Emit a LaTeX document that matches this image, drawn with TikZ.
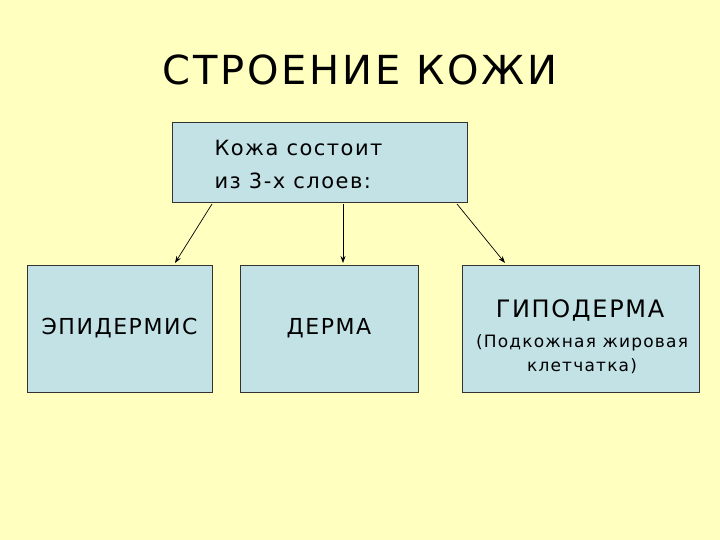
\documentclass[tikz,border=0pt]{standalone}
\usepackage{fontspec}
\setmainfont{DejaVu Sans}[LetterSpace=7]
\usetikzlibrary{arrows.meta}
\definecolor{bg}{HTML}{FFFFC0}
\definecolor{boxfill}{HTML}{C2E2E6}
\begin{document}
\begin{tikzpicture}[x=1pt,y=-1pt,
  box/.style={draw=black!80,fill=boxfill,line width=0.8pt,inner sep=0pt},
  conn/.style={-{Stealth[length=7pt,width=5pt]},line width=0.7pt}]
\fill[bg] (0,0) rectangle (720,540);
\useasboundingbox (0,0) rectangle (720,540);
\node[font=\fontsize{40}{46}\selectfont] (title) at (360,70) {СТРОЕНИЕ КОЖИ};
\node[box,minimum width=295pt,minimum height=80pt] (top) at (319.5,162) {};
\node[anchor=west,align=left,font=\fontsize{21}{33}\selectfont] (toptext) at (211,164) {Кожа состоит\\ из 3-х слоев:};
\node[box,minimum width=185pt,minimum height=127pt,font=\fontsize{22}{26}\selectfont] (a) at (119.5,328.5) {ЭПИДЕРМИС};
\node[box,minimum width=178pt,minimum height=127pt,font=\fontsize{22}{26}\selectfont] (b) at (329,328.5) {ДЕРМА};
\node[box,minimum width=237pt,minimum height=127pt] (c) at (580.5,328.5) {};
\node[font=\fontsize{24}{28}\selectfont] (ct) at (580,310) {ГИПОДЕРМА};
\node[align=center,font=\fontsize{17}{24}\selectfont] (cs) at (582,354) {(Подкожная жировая\\ клетчатка)};
\coordinate (s1) at (212,204);
\coordinate (s2) at (343,204);
\coordinate (s3) at (457,204);
\coordinate (e1) at (175,263);
\coordinate (e2) at (343,263);
\coordinate (e3) at (505,263);
\draw[conn] (s1) -- (e1);
\draw[conn] (s2) -- (e2);
\draw[conn] (s3) -- (e3);
\end{tikzpicture}
\end{document}
